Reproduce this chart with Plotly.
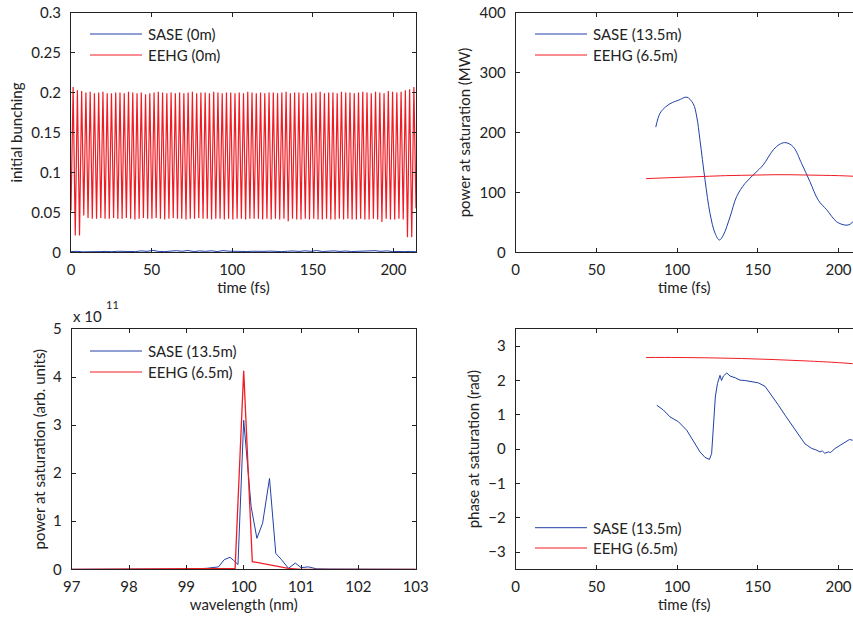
import numpy as np
import plotly.graph_objects as go

W, H = 853, 619
BLUE = "#2040a8"
RED = "#f01c24"
FONT = "Lato"

# ---------------- data ----------------
# top-left: initial bunching (EEHG zig-zag: start, peaks/troughs alternating, end)
bunch_start = 0.052
bunch_end = 0.055
bunch_peaks = [
    0.207, 0.203, 0.202, 0.200, 0.201, 0.199, 0.200, 0.201, 0.199, 0.199,
    0.200, 0.200, 0.199, 0.201, 0.200, 0.199, 0.200, 0.198, 0.199, 0.200,
    0.201, 0.200, 0.199, 0.200, 0.199, 0.200, 0.199, 0.200, 0.201, 0.199,
    0.200, 0.200, 0.199, 0.201, 0.200, 0.199, 0.200, 0.200, 0.199, 0.200,
    0.199, 0.201, 0.200, 0.199, 0.200, 0.199, 0.200, 0.200, 0.199, 0.200,
    0.201, 0.199, 0.200, 0.200, 0.199, 0.200, 0.199, 0.200, 0.201, 0.199,
    0.200, 0.200, 0.199, 0.201, 0.200, 0.200, 0.199, 0.200, 0.201, 0.200,
    0.199, 0.201, 0.200, 0.199, 0.202, 0.201, 0.200, 0.201, 0.203, 0.204,
    0.207,
]
bunch_troughs = [
    0.021, 0.021, 0.046, 0.043, 0.042, 0.042, 0.043, 0.042, 0.042, 0.043,
    0.042, 0.042, 0.043, 0.042, 0.041, 0.042, 0.043, 0.042, 0.042, 0.043,
    0.042, 0.041, 0.042, 0.043, 0.042, 0.042, 0.041, 0.042, 0.042, 0.043,
    0.042, 0.042, 0.041, 0.042, 0.042, 0.041, 0.042, 0.041, 0.042, 0.042,
    0.041, 0.042, 0.042, 0.042, 0.041, 0.042, 0.041, 0.042, 0.041, 0.042,
    0.039, 0.042, 0.041, 0.041, 0.042, 0.041, 0.042, 0.041, 0.041, 0.042,
    0.041, 0.041, 0.042, 0.041, 0.042, 0.041, 0.041, 0.042, 0.041, 0.041,
    0.042, 0.041, 0.038, 0.042, 0.041, 0.041, 0.042, 0.041, 0.019, 0.019,
]
bunch_tmax = 214
sase_bunch = [
    0.0008, 0.0012, 0.0006, 0.0010, 0.0014, 0.0009, 0.0011, 0.0007, 0.0013, 0.0010,
    0.0015, 0.0009, 0.0018, 0.0012, 0.0024, 0.0011, 0.0009, 0.0016, 0.0020, 0.0013,
    0.0022, 0.0010, 0.0017, 0.0012, 0.0019, 0.0009, 0.0021, 0.0014, 0.0011, 0.0016,
    0.0010, 0.0013, 0.0008, 0.0012, 0.0015, 0.0010, 0.0009, 0.0013, 0.0017, 0.0011,
    0.0019, 0.0012, 0.0022, 0.0010, 0.0014, 0.0018, 0.0011, 0.0016, 0.0010, 0.0013,
    0.0009, 0.0015, 0.0020, 0.0012, 0.0018, 0.0010, 0.0014, 0.0009, 0.0011, 0.0007,
]

# top-right: power at saturation (MW)
sase_pow_t = [86.8, 89.4, 93, 97, 101, 106, 110, 112.2, 114.2, 117.3, 120.4, 123.5,
              126.2, 128.7, 132.8, 136.9, 142.1, 148.3, 153.4, 159.6, 164, 167.5,
              172, 177.2, 182.3, 187.5, 192.7, 198.9, 204, 206.5, 209]
sase_pow = [209, 232, 243, 250, 254, 259, 248, 226, 187, 121, 65, 32,
            20.5, 29, 59, 93, 115, 132, 146, 171, 181, 183,
            176, 148, 118, 87, 71, 51, 45.5, 46, 51]
eehg_pow_t = [80.8, 90, 100, 110, 120, 130, 140, 150, 160, 170, 180, 190, 200, 209]
eehg_pow = [123, 124, 125, 126, 127, 128, 128.5, 129, 129.5, 129.5, 129, 128.5, 128, 127]

# bottom-left: spectrum (units of 1e11)
sase_wl = [97.0, 98.0, 99.0, 99.35, 99.56, 99.66, 99.76, 99.82, 99.9, 100.0, 100.13,
           100.23, 100.33, 100.45, 100.56, 100.66, 100.78, 100.9, 101.0, 101.13,
           101.27, 101.5, 102.0, 103.0]
sase_spec = [0, 0, 0.005, 0.02, 0.05, 0.2, 0.25, 0.19, 0.1, 3.1, 1.3,
             0.645, 0.96, 1.89, 0.33, 0.2, 0.02, 0.13, 0.035, 0.05,
             0.01, 0.005, 0, 0]
eehg_wl = [97.0, 99.85, 100.0, 100.15, 100.78, 101.0, 103.0]
eehg_spec = [0, 0.02, 4.13, 0.16, 0.02, 0, 0]

# bottom-right: phase at saturation (rad)
sase_ph_t = [87.4, 91.5, 95.6, 100.8, 106, 110, 114.2, 117.3, 120, 121.4, 122.5, 123.7,
             125, 126.6, 127.5, 128.7, 130.8, 132.8, 136, 139, 142, 145.2, 148, 150.4,
             154.5, 158.6, 162.8, 166.9, 172, 176.2, 179.3, 181, 183.4, 186, 188.6, 190,
             191.5, 193.8, 195, 197.9, 200.5, 203, 205, 206.8, 208.8]
sase_ph = [1.28, 1.14, 0.94, 0.8, 0.55, 0.26, -0.08, -0.24, -0.3, -0.13, 0.65, 1.52,
           1.91, 2.15, 2.0, 2.13, 2.22, 2.13, 2.08, 2.01, 2.0, 1.98, 1.96, 1.93,
           1.83, 1.57, 1.28, 0.99, 0.65, 0.36, 0.15, 0.1, 0.02, -0.02, -0.08, -0.05,
           -0.12, -0.08, -0.1, 0.02, 0.1, 0.17, 0.22, 0.28, 0.26]
eehg_ph_t = [80.8, 100, 120, 140, 160, 180, 200, 208.8]
eehg_ph = [2.67, 2.67, 2.66, 2.64, 2.61, 2.57, 2.52, 2.49]

# ---------------- build ----------------
bunch_seq = [bunch_start]
for i, p in enumerate(bunch_peaks):
    bunch_seq.append(p)
    if i < len(bunch_troughs):
        bunch_seq.append(bunch_troughs[i])
bunch_seq.append(bunch_end)
bunch_t = np.linspace(0, bunch_tmax, len(bunch_seq))
sase_bunch_t = np.linspace(0, bunch_tmax, len(sase_bunch))


def X(px):
    return px / W


def Y(py):
    return 1 - py / H


fig = go.Figure()
fig.add_trace(go.Scatter(x=sase_bunch_t, y=sase_bunch, mode="lines", line=dict(color=BLUE, width=1),
                         name="SASE (0m)", xaxis="x", yaxis="y", showlegend=False))
fig.add_trace(go.Scatter(x=bunch_t, y=bunch_seq, mode="lines", line=dict(color=RED, width=1.2),
                         name="EEHG (0m)", xaxis="x", yaxis="y", showlegend=False))
fig.add_trace(go.Scatter(x=sase_pow_t, y=sase_pow, mode="lines", line=dict(color=BLUE, width=1, shape="spline"),
                         name="SASE (13.5m)", xaxis="x2", yaxis="y2", showlegend=False))
fig.add_trace(go.Scatter(x=eehg_pow_t, y=eehg_pow, mode="lines", line=dict(color=RED, width=1, shape="spline"),
                         name="EEHG (6.5m)", xaxis="x2", yaxis="y2", showlegend=False))
fig.add_trace(go.Scatter(x=sase_wl, y=sase_spec, mode="lines", line=dict(color=BLUE, width=1),
                         name="SASE (13.5m)", xaxis="x3", yaxis="y3", showlegend=False))
fig.add_trace(go.Scatter(x=eehg_wl, y=eehg_spec, mode="lines", line=dict(color=RED, width=1.3),
                         name="EEHG (6.5m)", xaxis="x3", yaxis="y3", showlegend=False))
fig.add_trace(go.Scatter(x=sase_ph_t, y=sase_ph, mode="lines", line=dict(color=BLUE, width=1),
                         name="SASE (13.5m)", xaxis="x4", yaxis="y4", showlegend=False))
fig.add_trace(go.Scatter(x=eehg_ph_t, y=eehg_ph, mode="lines", line=dict(color=RED, width=1, shape="spline"),
                         name="EEHG (6.5m)", xaxis="x4", yaxis="y4", showlegend=False))

tickfont = dict(family=FONT, size=15, color="#222")
titlefont = dict(family=FONT, size=15, color="#222")


def xax(domain, rng, tickvals, anchor, title, mirror="ticks"):
    return dict(domain=domain, range=rng, tickvals=tickvals, anchor=anchor, automargin=False,
                ticks="inside", ticklen=4, tickcolor="#222", showline=True, linecolor="#222",
                linewidth=1, mirror=mirror, showgrid=False, zeroline=False, ticklabelstandoff=4,
                tickfont=tickfont, title=dict(text=title, font=titlefont, standoff=2))


def yax(domain, rng, tickvals, ticktext, anchor, title, mirror="ticks", standoff=4):
    return dict(domain=domain, range=rng, tickvals=tickvals, ticktext=ticktext, anchor=anchor,
                automargin=False, ticks="inside", ticklen=4, tickcolor="#222", showline=True,
                linecolor="#222", linewidth=1, mirror=mirror, showgrid=False, zeroline=False,
                ticklabelstandoff=6,
                tickfont=tickfont, title=dict(text=title, font=titlefont, standoff=standoff))


top = [Y(252.3), Y(12.7)]
bot = [Y(569.3), Y(329)]

layout = dict(
    width=W, height=H, margin=dict(l=0, r=0, t=0, b=0),
    paper_bgcolor="white", plot_bgcolor="white", showlegend=False,
    xaxis=xax([X(71), X(416)], [0, 214], [0, 50, 100, 150, 200], "y", "time (fs)"),
    yaxis=yax(top, [0, 0.3], [0, 0.05, 0.1, 0.15, 0.2, 0.25, 0.3],
              ["0", "0.05", "0.1", "0.15", "0.2", "0.25", "0.3"], "x", "initial bunching", standoff=5),
    xaxis2=xax([X(515.7), 1.0], [0, 209], [0, 50, 100, 150, 200], "y2", "time (fs)"),
    yaxis2=yax(top, [0, 400], [0, 100, 200, 300, 400], ["0", "100", "200", "300", "400"], "x2",
               "power at saturation (MW)", mirror=False, standoff=5),
    xaxis3=xax([X(71.7), X(415.7)], [97, 103], [97, 98, 99, 100, 101, 102, 103], "y3", "wavelength (nm)"),
    yaxis3=yax(bot, [0, 5], [0, 1, 2, 3, 4, 5], ["0", "1", "2", "3", "4", "5"], "x3",
               "power at saturation (arb. units)", standoff=3),
    xaxis4=xax([X(515.7), 1.0], [0, 209], [0, 50, 100, 150, 200], "y4", "time (fs)"),
    yaxis4=yax(bot, [-3.5, 3.5], [-3, -2, -1, 0, 1, 2, 3],
               ["\u22123", "\u22122", "\u22121", "0", "1", "2", "3"], "x4",
               "phase at saturation (rad)", mirror=False, standoff=5),
)
fig.update_layout(**layout)

# manual MATLAB-style legends
shapes = []
annotations = []


def legend(x0, rows, names):
    for (py, name, color) in zip(rows, names, [BLUE, RED]):
        shapes.append(dict(type="line", xref="paper", yref="paper", x0=X(x0), x1=X(x0 + 52),
                           y0=Y(py), y1=Y(py), line=dict(color=color, width=1)))
        annotations.append(dict(text=name, xref="paper", yref="paper", x=X(x0 + 56), y=Y(py),
                                xanchor="left", yanchor="middle", showarrow=False, font=titlefont))


legend(90, [34, 55], ["SASE (0m)", "EEHG (0m)"])
legend(535, [34, 55], ["SASE (13.5m)", "EEHG (6.5m)"])
legend(90, [351, 372], ["SASE (13.5m)", "EEHG (6.5m)"])
legend(535, [527.7, 548], ["SASE (13.5m)", "EEHG (6.5m)"])

annotations.append(dict(text="x 10", xref="paper", yref="paper", x=X(71), y=Y(316),
                        xanchor="left", yanchor="middle", showarrow=False, font=titlefont))
annotations.append(dict(text="11", xref="paper", yref="paper", x=X(104), y=Y(305),
                        xanchor="left", yanchor="middle", showarrow=False,
                        font=dict(family=FONT, size=11, color="#222")))

fig.update_layout(shapes=shapes, annotations=annotations)
fig.write_html("out.html", config={"displayModeBar": False},
               post_script="document.body.style.margin='0';document.body.style.padding='0';"
                           "document.documentElement.style.overflow='hidden';")
